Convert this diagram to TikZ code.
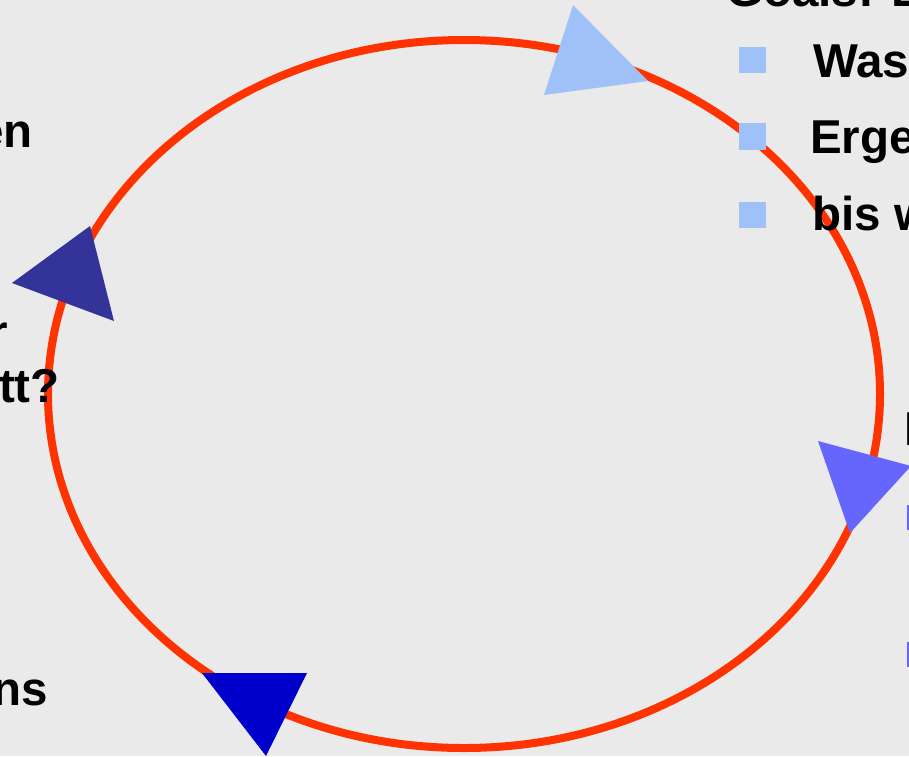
\documentclass[tikz,border=0pt]{standalone}
\usepackage{fontspec}
\setmainfont{Liberation Sans}
\definecolor{bgc}{HTML}{EAEAEA}
\definecolor{ringred}{HTML}{FF3300}
\definecolor{paleblue}{HTML}{A0C0F8}
\definecolor{midblue}{HTML}{6666FF}
\definecolor{navy}{HTML}{333399}
\definecolor{deepblue}{HTML}{0000CC}
\tikzset{
  txt/.style={inner sep=0pt, font=\fontsize{47.5}{55}\selectfont\bfseries, text=black},
  ring/.style={draw=ringred, line width=8pt},
  headpale/.style={fill=paleblue, draw=none},
  headmid/.style={fill=midblue, draw=none},
  headnavy/.style={fill=navy, draw=none},
  headdeep/.style={fill=deepblue, draw=none},
  bulletpale/.style={fill=paleblue, draw=none},
  bulletmid/.style={fill=midblue, draw=none}
}
\begin{document}
\begin{tikzpicture}[x=1pt,y=-1pt]
\useasboundingbox (0,0) rectangle (909,756);
\fill[bgc] (0,0) rectangle (909,756);
\clip (0,0) rectangle (909,756);

% cycle ring
\draw[ring] (464,394) ellipse [x radius=416, y radius=354];

% arrowheads on the ring
\fill[headpale] (573,5) -- (544,95) -- (648,81) -- cycle;
\fill[headnavy] (90,226) -- (12,283) -- (114,321) -- cycle;
\fill[headmid] (818,441) -- (850,533) -- (911,466) -- cycle;
\fill[headdeep] (202,673) -- (307,673) -- (266,756) -- cycle;

% top right text block
\node[txt, anchor=base west] (goals) at (726,6) {Goals: E};
\fill[bulletpale] (739,47) rectangle (766,73);
\fill[bulletpale] (739,123) rectangle (766,150);
\fill[bulletpale] (739,202) rectangle (766,228);
\node[txt, anchor=base west] (was) at (813,77) {Was};
\node[txt, anchor=base west] (erge) at (810,153) {Erge};
\node[txt, anchor=base west] (bis) at (812,230) {bis w};

% right text block
\node[txt, anchor=base west] (rhead) at (904,445) {E};
\fill[bulletmid] (907,505) rectangle (933,530);
\fill[bulletmid] (907,642) rectangle (933,667);

% left text fragments
\node[txt, anchor=base east] (en) at (33,147) {en};
\node[txt, anchor=base east] (r) at (8,348) {r};
\node[txt, anchor=base east] (tt) at (60,402) {tt?};
\node[txt, anchor=base east] (ns) at (48,705) {ns};
\end{tikzpicture}
\end{document}
